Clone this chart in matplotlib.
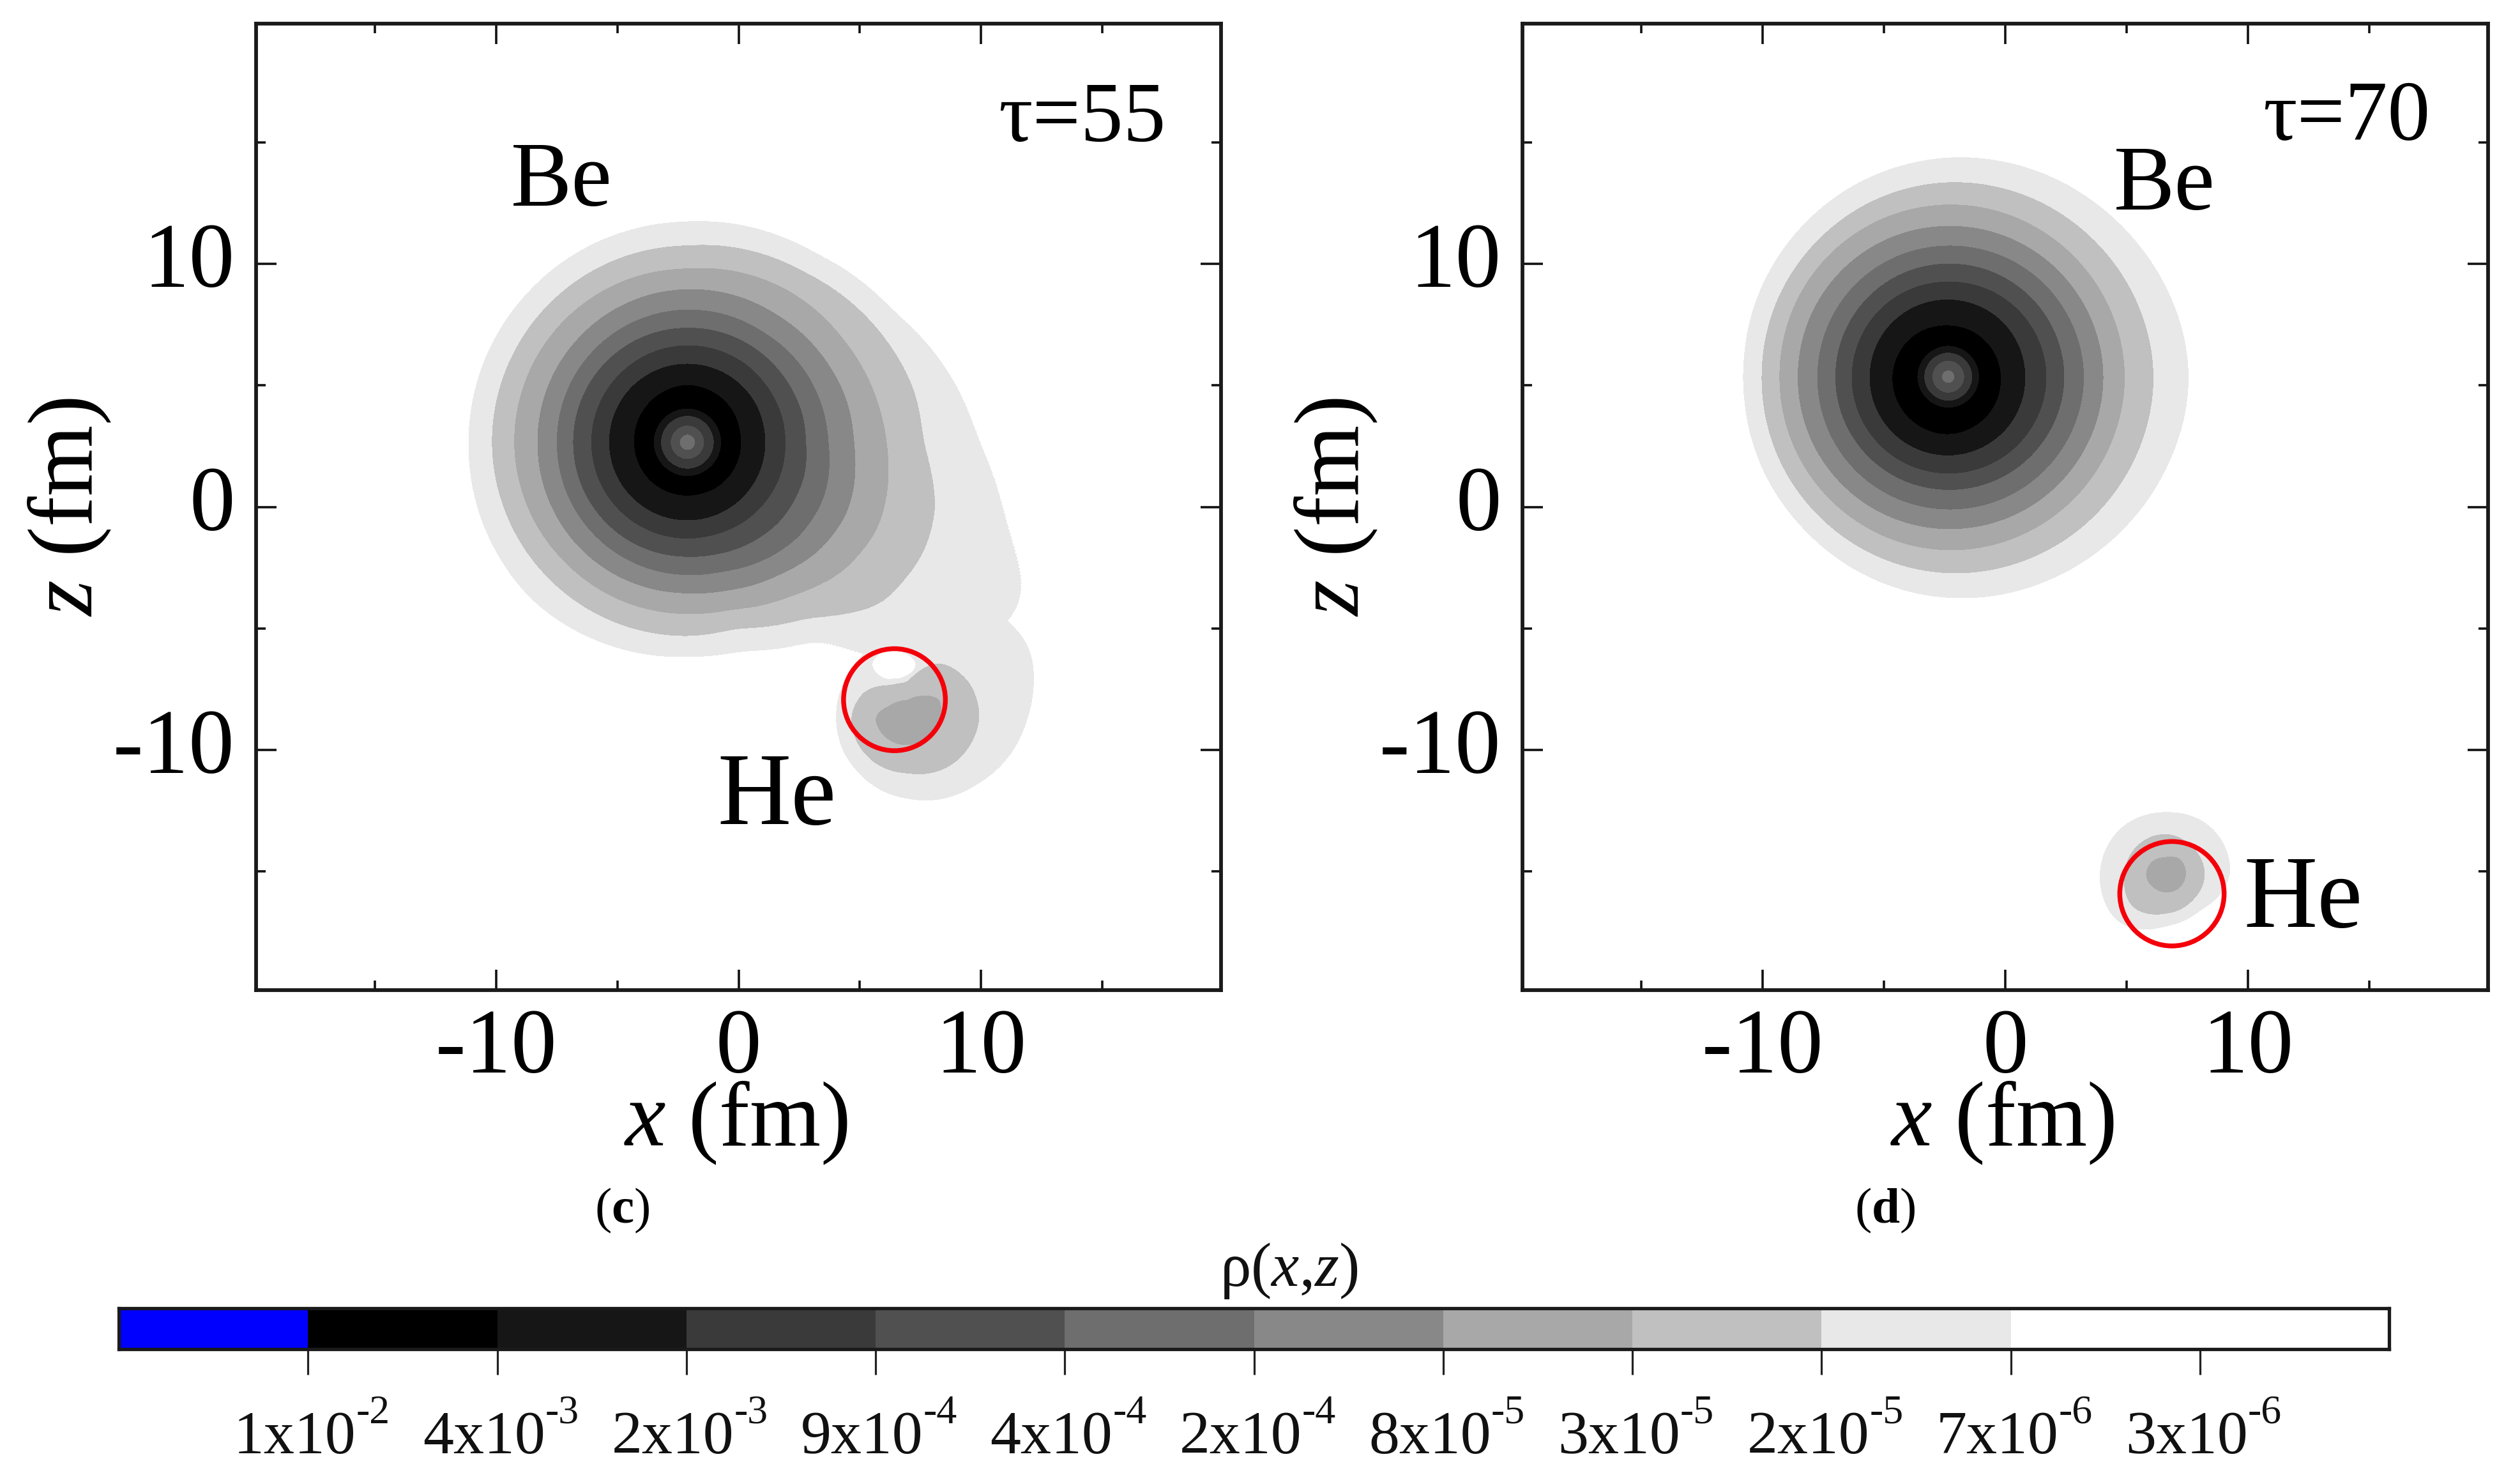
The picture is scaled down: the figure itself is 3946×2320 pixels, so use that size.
import numpy as np
import matplotlib
matplotlib.use("Agg")
import matplotlib.pyplot as plt
from matplotlib.colors import ListedColormap, BoundaryNorm
from matplotlib.patches import Circle
from matplotlib.transforms import ScaledTranslation

plt.rcParams['font.family'] = ['Liberation Serif', 'DejaVu Serif']
plt.rcParams['mathtext.fontset'] = 'custom'
plt.rcParams['mathtext.rm'] = 'Liberation Serif'
plt.rcParams['mathtext.it'] = 'Liberation Serif:italic'
plt.rcParams['mathtext.bf'] = 'Liberation Serif:bold'

W, H = 3946, 2320
DPI = 100

# ---- colour scale ----
CBAR_MANT = ['1', '4', '2', '9', '4', '2', '8', '3', '2', '7', '3']
CBAR_EXP = ['-2', '-3', '-3', '-4', '-4', '-4', '-5', '-5', '-5', '-6', '-6']
RHO_TICKS = [1e-2, 4e-3, 2e-3, 9e-4, 4e-4, 2e-4, 8e-5, 3e-5, 2e-5, 7e-6, 3e-6]
BAND_COLORS = ['#0000ff', '#000000', '#161616', '#3a3a3a', '#505050', '#6e6e6e',
               '#888888', '#a8a8a8', '#c0c0c0', '#e8e8e8', '#ffffff', '#ffffff']

# ---- contour radii (fm), rho at each contour ----
BE_RHO_INNER = [2.5e-4, 4e-4, 9e-4, 2e-3, 4e-3, 6e-3]
BE_RHO_OUTER = [4e-3, 2e-3, 9e-4, 4e-4, 2e-4, 8e-5, 3e-5, 2e-5, 7e-6]

# panel c, Be
C_BE_CENTER = (-2.11, 2.66)
C_BE_R_INNER = [0.0, 0.33, 0.70, 1.10, 1.40, 1.70]
C_BE_ANGLES = [0, 12, 32, 55, 90, 135, 180, 225, 270, 285, 305, 320, 335, 345]
C_BE_R_4E3 = [2.20, 2.20, 2.25, 2.30, 2.35, 2.25, 2.18, 2.18, 2.18, 2.18, 2.20, 2.20, 2.20, 2.20]
C_BE_R_2E3 = [3.20, 3.20, 3.22, 3.22, 3.22, 3.22, 3.22, 3.20, 3.20, 3.20, 3.20, 3.20, 3.20, 3.20]
C_BE_R_9E4 = [4.03, 4.03, 4.00, 4.00, 3.98, 3.95, 3.95, 3.95, 3.95, 3.95, 4.00, 4.03, 4.05, 4.05]
C_BE_R_4E4 = [4.87, 4.87, 4.80, 4.75, 4.70, 4.70, 4.70, 4.70, 4.70, 4.75, 4.90, 5.00, 5.00, 5.00]
C_BE_R_2E4 = [5.80, 5.75, 5.65, 5.50, 5.45, 5.40, 5.37, 5.40, 5.45, 5.50, 5.80, 6.00, 6.06, 6.00]
C_BE_R_8E5 = [6.85, 6.80, 6.60, 6.40, 6.29, 6.20, 6.17, 6.20, 6.20, 6.30, 6.63, 7.00, 7.18, 7.10]
C_BE_R_3E5 = [8.20, 8.00, 7.70, 7.50, 7.13, 7.13, 7.13, 7.05, 7.05, 7.10, 7.65, 8.30, 8.60, 8.50]
C_BE_R_2E5 = [9.70, 9.60, 9.08, 8.50, 8.09, 8.05, 8.05, 8.00, 7.97, 7.90, 8.76, 10.40, 10.75, 10.60]
C_BE_R_7E6 = [12.0, 11.3, 10.06, 9.40, 9.06, 9.00, 9.00, 9.10, 8.80, 8.85, 9.80, 14.4, 15.4, 13.6]

# panel c, He
HE_RHO = [5e-5, 3e-5, 2e-5, 7e-6]
C_HE_CENTER = (6.99, -8.68)
C_HE_ANGLES = [0, 30, 60, 90, 120, 150, 180, 225, 270, 315]
C_HE_R_3E5 = [1.30, 1.50, 1.00, 0.70, 0.75, 0.90, 1.35, 1.20, 1.10, 1.10]
C_HE_R_2E5 = [2.94, 2.90, 2.63, 1.40, 1.50, 2.10, 2.35, 2.30, 2.27, 2.65]
C_HE_R_7E6 = [4.90, 5.80, 5.60, 4.00, 3.20, 3.00, 2.94, 3.00, 3.30, 3.90]
C_HOLE_CENTER = (6.40, -6.50)
C_HOLE_ANGLES = [0, 45, 90, 135, 180, 225, 270, 315]
C_HOLE_R = [0.95, 0.65, 0.55, 0.70, 0.90, 0.70, 0.55, 0.65]

# panel d, Be
D_BE_CENTER = (-2.35, 5.36)
D_BE_R_INNER = [0.0, 0.27, 0.67, 1.00, 1.28, 1.60]
D_BE_ANGLES = [0, 45, 90, 135, 180, 225, 270, 315]
D_BE_R_4E3 = [2.15, 2.10, 2.09, 2.20, 2.29, 2.33, 2.36, 2.25]
D_BE_R_2E3 = [3.16, 3.16, 3.16, 3.20, 3.23, 3.23, 3.23, 3.20]
D_BE_R_9E4 = [4.04, 3.97, 3.90, 3.93, 3.97, 3.97, 3.97, 4.00]
D_BE_R_4E4 = [4.78, 4.70, 4.64, 4.64, 4.64, 4.64, 4.64, 4.70]
D_BE_R_2E4 = [5.59, 5.48, 5.38, 5.38, 5.38, 5.42, 5.45, 5.52]
D_BE_R_8E5 = [6.39, 6.28, 6.19, 6.19, 6.19, 6.22, 6.26, 6.33]
D_BE_R_3E5 = [7.27, 7.15, 7.07, 7.00, 6.93, 7.00, 7.13, 7.20]
D_BE_R_2E5 = [8.48, 8.20, 8.00, 7.75, 7.67, 7.80, 8.08, 8.30]
D_BE_R_7E6 = [9.96, 9.40, 9.00, 8.60, 8.41, 8.60, 9.08, 9.50]

# panel d, He
D_HE_CENTER = (6.60, -15.15)
D_HE_ANGLES = [0, 45, 90, 135, 180, 225, 270, 315]
D_HE_R_3E5 = [0.83, 0.88, 0.70, 0.75, 0.79, 0.70, 0.70, 0.77]
D_HE_R_2E5 = [1.62, 1.58, 1.67, 1.65, 1.67, 1.90, 1.58, 1.52]
D_HE_R_7E6 = [2.67, 2.70, 2.54, 2.63, 2.67, 2.76, 2.06, 2.00]

# red circles (centre x, centre z, radius in fm)
C_RED = (6.43, -7.94, 2.10)
D_RED = (6.87, -15.93, 2.15)

MAJOR_TICKS = [-10, 0, 10]
MAJOR_LABELS = ['-10', '0', '10']
MINOR_TICKS = [-15, -5, 5, 15]
LIM = 19.9


def radial_field(X, Y, center, angles, radii_rows, rho_values, smooth_deg=0.0):
    """log10(rho) from contour radii tabulated against polar angle."""
    dx, dy = X - center[0], Y - center[1]
    r = np.hypot(dx, dy)
    th = np.degrees(np.arctan2(dy, dx)) % 360
    nb = 720
    bin_th = np.arange(nb) * 0.5
    a = np.asarray(angles, float)
    table = np.array([np.interp(bin_th, a, row, period=360) for row in radii_rows])
    if smooth_deg > 0:
        k = np.exp(-0.5 * (((np.arange(nb) + nb // 2) % nb - nb // 2) * 0.5 / smooth_deg) ** 2)
        k /= k.sum()
        table = np.real(np.fft.ifft(np.fft.fft(table, axis=1) * np.fft.fft(k), axis=1))
    idx = np.rint(th / 0.5).astype(int) % nb
    vals = np.log10(np.asarray(rho_values, float))
    out = np.empty_like(r)
    for b in range(nb):
        m = idx == b
        if m.any():
            out[m] = np.interp(r[m], table[:, b], vals)
    return out


def const_rows(vals, n):
    return [[v] * n for v in vals]


xs = np.linspace(-LIM, LIM, 1500)
X, Y = np.meshgrid(xs, xs)
FAR = 80.0
FAR_RHO = 1e-8

# panel c field
nc = len(C_BE_ANGLES)
c_rows = const_rows(C_BE_R_INNER, nc) + [C_BE_R_4E3, C_BE_R_2E3, C_BE_R_9E4, C_BE_R_4E4, C_BE_R_2E4,
                                         C_BE_R_8E5, C_BE_R_3E5, C_BE_R_2E5, C_BE_R_7E6, [FAR] * nc]
Zc = radial_field(X, Y, C_BE_CENTER, C_BE_ANGLES, c_rows, BE_RHO_INNER + BE_RHO_OUTER + [FAR_RHO], 3.0)
nh = len(C_HE_ANGLES)
he_rows = [[0.0] * nh, C_HE_R_3E5, C_HE_R_2E5, C_HE_R_7E6, [FAR] * nh]
Zh = radial_field(X, Y, C_HE_CENTER, C_HE_ANGLES, he_rows, HE_RHO + [FAR_RHO], 6.0)
Zc = np.maximum(Zc, Zh)
nw = len(C_HOLE_ANGLES)
hole_rows = [[0.0] * nw, C_HOLE_R, [v + 0.05 for v in C_HOLE_R], [FAR] * nw]
Zhole = radial_field(X, Y, C_HOLE_CENTER, C_HOLE_ANGLES, hole_rows, [1e-8, 1e-6, 1.0, 1.0], 8.0)
Zc = np.minimum(Zc, Zhole)

# panel d field
nd = len(D_BE_ANGLES)
d_rows = const_rows(D_BE_R_INNER, nd) + [D_BE_R_4E3, D_BE_R_2E3, D_BE_R_9E4, D_BE_R_4E4, D_BE_R_2E4,
                                         D_BE_R_8E5, D_BE_R_3E5, D_BE_R_2E5, D_BE_R_7E6, [FAR] * nd]
Zd = radial_field(X, Y, D_BE_CENTER, D_BE_ANGLES, d_rows, BE_RHO_INNER + BE_RHO_OUTER + [FAR_RHO], 8.0)
ne = len(D_HE_ANGLES)
dhe_rows = [[0.0] * ne, D_HE_R_3E5, D_HE_R_2E5, D_HE_R_7E6, [FAR] * ne]
Zdh = radial_field(X, Y, D_HE_CENTER, D_HE_ANGLES, dhe_rows, HE_RHO + [FAR_RHO], 8.0)
Zd = np.maximum(Zd, Zdh)

# contour levels, ascending
levels = [-9.0] + [np.log10(v) for v in RHO_TICKS[::-1]] + [0.0]
band_cols = BAND_COLORS[::-1]

fig = plt.figure(figsize=(W / DPI, H / DPI), dpi=DPI, facecolor='white')


def px_axes(l, t, r, b):
    return fig.add_axes([l / W, 1 - b / H, (r - l) / W, (b - t) / H])


FRAME = 4.2


def panel(box, Z, red, be_pos, he_pos, tau_pos, tau, tag, tag_x):
    ax = px_axes(*box)
    ax.contourf(X, Y, Z, levels=levels, colors=band_cols)
    ax.add_patch(Circle(red[:2], red[2], fill=False, ec='#f4000a', lw=5.4, zorder=5))
    ax.set_xlim(-LIM, LIM)
    ax.set_ylim(-LIM, LIM)
    ax.set_xticks(MAJOR_TICKS)
    ax.set_xticklabels(MAJOR_LABELS)
    ax.set_yticks(MAJOR_TICKS)
    ax.set_yticklabels(MAJOR_LABELS)
    ax.set_xticks(MINOR_TICKS, minor=True)
    ax.set_yticks(MINOR_TICKS, minor=True)
    ax.tick_params(which='major', direction='in', length=23, width=2.6, top=True, right=True,
                   labelsize=103, color='#111111')
    ax.tick_params(which='minor', direction='in', length=11, width=2.6, top=True, right=True, color='#111111')
    ax.tick_params(axis='x', which='major', pad=21)
    ax.tick_params(axis='y', which='major', pad=24)
    shift = ScaledTranslation(0, 10 / 72, fig.dpi_scale_trans)
    for lab in ax.get_yticklabels():
        lab.set_transform(lab.get_transform() + shift)
    for s in ax.spines.values():
        s.set_linewidth(FRAME)
        s.set_color('#1a1a1a')
    ax.set_xlabel(r'$\mathit{x}$ (fm)', fontsize=103, va='baseline')
    ax.xaxis.set_label_coords(0.497, -0.161)
    ax.set_ylabel(r'$\mathit{z}$ (fm)', fontsize=103, va='baseline')
    ax.yaxis.set_label_coords(-0.17, 0.5)
    ax.text(*be_pos, 'Be', fontsize=103, ha='left', va='baseline')
    ax.text(*he_pos, 'He', fontsize=115, ha='left', va='baseline')
    ax.text(*tau_pos, tau, fontsize=96, ha='left', va='baseline')
    fig.text(tag_x / W, 1 - 1895 / H, tag, fontsize=57, ha='center', va='center')
    return ax


panel((401, 37, 1912, 1550), Zc, C_RED, (-9.4, 12.4), (-0.86, -13.05), (10.7, 15.05), 'τ=55',
      r'($\mathbf{c}$)', 974)
panel((2384, 37, 3896, 1550), Zd, D_RED, (4.47, 12.25), (9.83, -17.3), (10.6, 15.1), 'τ=70',
      r'($\mathbf{d}$)', 2952)

# colour bar
cax = px_axes(186, 2048, 3741, 2112)
cax.pcolormesh(np.arange(len(BAND_COLORS) + 1), [0, 1], np.arange(len(BAND_COLORS))[None, :],
               cmap=ListedColormap(BAND_COLORS),
               norm=BoundaryNorm(np.arange(len(BAND_COLORS) + 1) - 0.5, len(BAND_COLORS)))
cax.set_xlim(0, len(BAND_COLORS))
cax.set_ylim(0, 1)
cax.set_yticks([])
tick_pos = np.arange(1, len(CBAR_MANT) + 1)
cax.set_xticks(tick_pos)
cax.set_xticklabels([])
cax.tick_params(axis='x', direction='out', length=29, width=2.3, color='#222222')
for s in cax.spines.values():
    s.set_linewidth(3.8)
    s.set_color('#1a1a1a')
trans = cax.get_xaxis_transform()
for p, m, e in zip(tick_pos, CBAR_MANT, CBAR_EXP):
    base = cax.annotate(m + 'x10', xy=(p, 0), xycoords=trans, xytext=(-84, -117), textcoords='offset points',
                        fontsize=69, ha='left', va='baseline', color='#111111')
    cax.annotate(e, xy=(1, 0), xycoords=base, xytext=(0, 48), textcoords='offset points',
                 fontsize=46, ha='left', va='baseline', color='#111111')
fig.text(2018 / W, 1 - 2013 / H, r'ρ($\mathit{x}$,$\mathit{z}$)', fontsize=70, ha='center', va='baseline',
         color='#111111')

fig.savefig('out.png', dpi=DPI, facecolor='white')
